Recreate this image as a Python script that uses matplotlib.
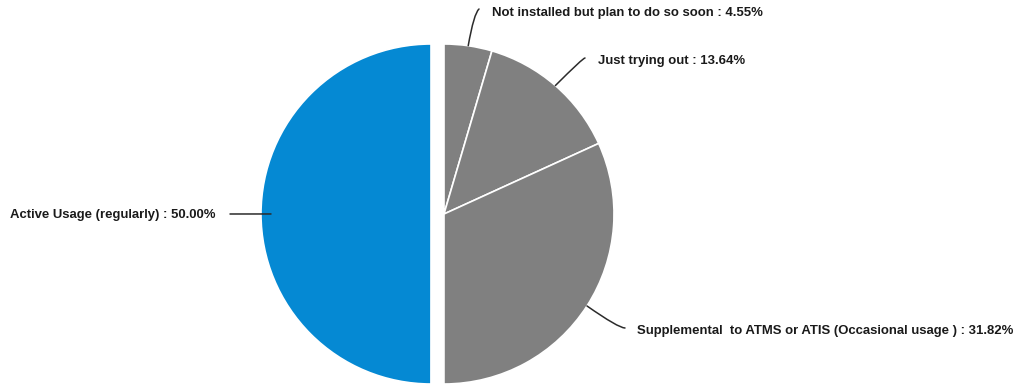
import numpy as np
import matplotlib.pyplot as plt

# usage breakdown, clockwise from 12 o'clock
labels = ["Not installed but plan to do so soon",
          "Just trying out",
          "Supplemental  to ATMS or ATIS (Occasional usage )",
          "Active Usage (regularly)"]
shares = [4.55, 13.64, 31.82, 50.00]
colors = ["#808080", "#808080", "#808080", "#0589D3"]

W, H = 1016, 387
fig = plt.figure(figsize=(W / 100, H / 100), dpi=100)
ax = fig.add_axes([0, 0, 1, 1])

cx, cy, r = 444, H - 214, 170
explode = [0, 0, 0, 13]   # pie offsets in data units (px here)
wedges, _ = ax.pie(shares, colors=colors, startangle=90, counterclock=False,
                   center=(cx, cy), radius=r, explode=explode, frame=True,
                   wedgeprops=dict(edgecolor="white", linewidth=1.2))
ax.set_xlim(0, W)
ax.set_ylim(0, H)
ax.axis("off")

# label text position (left edge) and where the leader line stops, in px from top-left
text_pos = [(492, 13), (598, 61), (637, 331), (10, 215)]
line_end = [(479, 9), (585, 58), (625, 328), (230, 214)]
# leader line directions: at the label end, at the wedge end
conn_ang = [(40, 80), (0, 45), (0, -35), None]

for w, lab, val, tp, le, a in zip(wedges, labels, shares, text_pos, line_end, conn_ang):
    mid = np.deg2rad((w.theta1 + w.theta2) / 2)
    x0, y0 = w.center
    ex = x0 + w.r * np.cos(mid)
    ey = y0 + w.r * np.sin(mid)
    if a is None:
        ex += 10
        conn = "arc3,rad=0"
    else:
        conn = "angle3,angleA=%d,angleB=%d" % a
    ax.annotate("", xy=(ex, ey), xytext=(le[0], H - le[1]),
                arrowprops=dict(arrowstyle="-", color="#2b2b2b", lw=1.1,
                                shrinkA=0, shrinkB=0, connectionstyle=conn))
    ax.text(tp[0], H - tp[1], "%s : %.2f%%" % (lab, val), ha="left", va="center",
            fontsize=9.45, fontweight="bold", family="Liberation Sans", color="#1a1a1a")

fig.savefig("out.png", dpi=100)
